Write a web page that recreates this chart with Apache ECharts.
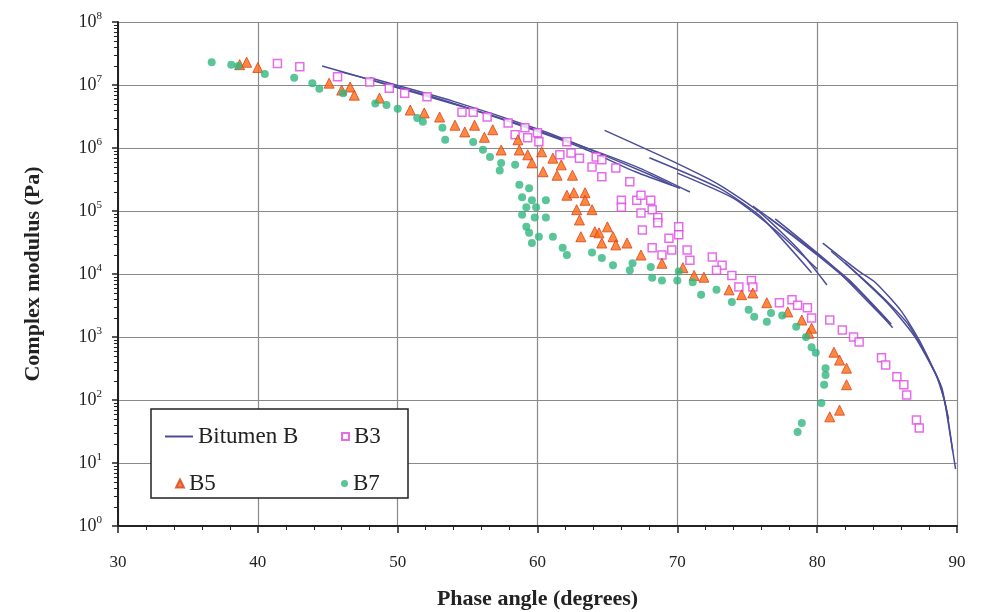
<!DOCTYPE html>
<html>
<head>
<meta charset="utf-8">
<script src="https://cdn.jsdelivr.net/npm/echarts@6/dist/echarts.min.js"></script>
<style>
  html, body { margin: 0; padding: 0; background: #fff; }
  #chart { width: 987px; height: 612px; }
</style>
</head>
<body>
<div id="chart"></div>
<script>
// Bitumen B isotherms, [phase angle (deg), complex modulus (Pa)]
const bitumenA1 = [[44.6, 2.0e7], [50.1, 8.9e6], [57.3, 3.0e6], [63.0, 1.1e6], [67.3, 4.8e5], [70.9, 2.0e5]]
const bitumenA2 = [[46.0, 1.6e7], [52.0, 7.0e6], [58.0, 2.6e6], [63.2, 1.0e6], [67.0, 4.2e5], [70.2, 2.3e5]]
const bitumenA3 = [[48.0, 1.3e7], [54.0, 5.5e6], [60.0, 2.0e6], [64.0, 9.0e5], [68.0, 3.8e5], [69.6, 2.6e5]]
const bitumenB1 = [[64.8, 1.9e6], [69.9, 5.8e5], [73.0, 2.6e5], [75.9, 9.5e4], [78.7, 2.4e4], [80.7, 6.7e3]]
const bitumenB2 = [[68.0, 7.0e5], [73.0, 2.3e5], [76.0, 8.0e4], [79.6, 1.05e4]]
const bitumenB3 = [[70.0, 4.0e5], [74.0, 1.6e5], [77.0, 5.0e4], [80.0, 1.2e4]]
const bitumenC1 = [[75.4, 1.2e5], [78.7, 3.5e4], [82.3, 8.0e3], [85.4, 1.4e3]]
const bitumenC2 = [[76.5, 8.0e4], [80.0, 2.0e4], [83.0, 5.5e3], [85.3, 1.6e3]]
const bitumenC3 = [[77.0, 7.5e4], [81.0, 1.4e4], [84.0, 3.0e3], [85.0, 1.8e3]]
const bitumenD1 = [[80.4, 3.1e4], [83.0, 1.1e4], [84.2, 7.2e3], [86.0, 2.6e3], [87.3, 890], [88.9, 160], [89.3, 55], [89.9, 8]]
const bitumenD2 = [[81.0, 2.3e4], [84.0, 6.0e3], [86.5, 1.6e3], [88.5, 250], [89.2, 80], [89.7, 15]]
const bitumenD3 = [[82.0, 1.5e4], [85.0, 3.5e3], [87.0, 1.0e3], [88.7, 200], [89.4, 50]]

const b3 = [
  [41.4, 2.2e7], [43.0, 1.95e7], [45.7, 1.35e7], [48.0, 1.12e7], [49.4, 8.9e6], [50.5, 7.4e6],
  [52.1, 6.5e6], [54.6, 3.7e6], [55.4, 3.7e6], [56.4, 3.1e6], [57.9, 2.5e6], [59.1, 2.1e6],
  [58.4, 1.62e6], [59.3, 1.45e6], [60.0, 1.74e6], [60.1, 1.26e6], [62.1, 1.26e6], [61.6, 7.8e5],
  [62.4, 8.3e5], [63.0, 6.9e5], [63.9, 5.0e5], [64.2, 7.2e5], [64.6, 6.5e5], [65.6, 4.8e5],
  [64.6, 3.5e5], [66.6, 2.9e5], [66.0, 1.48e5], [66.0, 1.15e5], [67.1, 1.48e5], [67.4, 1.78e5],
  [68.1, 1.48e5], [67.4, 9.3e4], [68.2, 1.05e5], [68.6, 7.9e4], [68.6, 6.5e4], [67.5, 5.0e4],
  [70.1, 5.6e4], [70.1, 4.2e4], [69.4, 3.7e4], [68.2, 2.6e4], [68.9, 2.0e4], [69.6, 2.4e4],
  [70.7, 2.4e4], [70.9, 1.66e4], [72.5, 1.86e4], [73.2, 1.38e4], [72.8, 1.15e4], [73.9, 9.5e3],
  [74.4, 6.2e3], [75.3, 7.9e3], [75.4, 6.2e3], [77.3, 3.5e3], [78.2, 3.9e3], [78.6, 3.2e3],
  [79.3, 2.9e3], [79.6, 2.0e3], [80.9, 1.86e3], [81.8, 1.29e3], [82.6, 1.0e3], [83.0, 830],
  [84.6, 470], [84.9, 360], [85.7, 234], [86.2, 174], [86.4, 120], [87.1, 48], [87.3, 36]
]
const b5 = [
  [38.7, 2.1e7], [39.2, 2.3e7], [40.0, 1.9e7], [45.1, 1.07e7], [46.0, 8.3e6], [46.6, 9.3e6],
  [46.9, 6.9e6], [48.7, 6.2e6], [50.9, 4.0e6], [51.9, 3.6e6], [53.0, 3.1e6], [54.1, 2.3e6],
  [54.8, 1.8e6], [55.5, 2.3e6], [56.2, 1.48e6], [56.8, 1.95e6], [57.4, 9.3e5], [58.6, 1.35e6],
  [58.7, 9.3e5], [59.3, 7.8e5], [59.6, 5.8e5], [60.4, 4.2e5], [60.3, 8.7e5], [61.1, 6.9e5],
  [61.4, 3.7e5], [61.7, 5.4e5], [62.5, 3.7e5], [62.1, 1.78e5], [62.6, 1.95e5], [63.4, 1.95e5],
  [63.4, 1.48e5], [62.8, 1.05e5], [63.0, 7.2e4], [63.9, 1.05e5], [63.1, 3.9e4], [64.1, 4.7e4],
  [64.4, 4.5e4], [65.0, 5.6e4], [65.4, 3.9e4], [64.6, 3.1e4], [65.6, 2.9e4], [66.4, 3.1e4],
  [67.4, 2.0e4], [68.9, 1.48e4], [70.4, 1.26e4], [71.2, 9.5e3], [71.9, 8.9e3], [73.7, 5.6e3],
  [74.6, 4.7e3], [75.4, 5.0e3], [76.4, 3.5e3], [77.9, 2.5e3], [78.9, 1.86e3], [79.6, 1.38e3],
  [79.4, 1.15e3], [81.2, 575], [81.6, 430], [82.1, 320], [82.1, 175], [81.6, 69], [80.9, 54]
]
const b7 = [
  [36.7, 2.3e7], [38.1, 2.1e7], [38.6, 2.0e7], [40.5, 1.5e7], [42.6, 1.3e7], [43.9, 1.07e7],
  [44.4, 8.7e6], [46.1, 7.4e6], [48.4, 5.1e6], [49.2, 4.8e6], [50.0, 4.2e6], [51.4, 3.0e6],
  [51.8, 2.6e6], [53.2, 2.1e6], [53.4, 1.35e6], [55.4, 1.25e6], [56.1, 9.4e5], [56.6, 7.2e5],
  [57.4, 5.8e5], [57.3, 4.4e5], [58.4, 5.4e5], [58.7, 2.6e5], [59.4, 2.3e5], [58.9, 1.66e5],
  [59.6, 1.48e5], [59.2, 1.15e5], [59.9, 1.15e5], [58.9, 8.7e4], [59.8, 7.9e4], [60.6, 1.48e5],
  [60.6, 7.9e4], [59.2, 5.6e4], [59.4, 4.5e4], [60.1, 3.9e4], [59.6, 3.1e4], [61.1, 3.9e4],
  [61.8, 2.6e4], [62.1, 2.0e4], [63.9, 2.2e4], [64.6, 1.8e4], [65.4, 1.38e4], [66.6, 1.15e4],
  [66.8, 1.48e4], [68.1, 1.29e4], [68.2, 8.7e3], [68.9, 7.9e3], [70.0, 7.9e3], [70.1, 1.1e4],
  [71.1, 7.4e3], [71.7, 4.7e3], [72.8, 5.6e3], [73.9, 3.6e3], [75.1, 2.7e3], [75.5, 2.1e3],
  [76.4, 1.74e3], [76.7, 2.4e3], [77.5, 2.2e3], [78.5, 1.45e3], [79.2, 1.0e3], [79.6, 690],
  [79.9, 560], [80.6, 320], [80.6, 250], [80.5, 175], [80.3, 90], [78.9, 43], [78.6, 31]
]

const xTicks = [30, 40, 50, 60, 70, 80, 90]

const serif = 'Liberation Serif'
const bitumenLines = [
  bitumenA1, bitumenA2, bitumenA3, bitumenB1, bitumenB2, bitumenB3,
  bitumenC1, bitumenC2, bitumenC3, bitumenD1, bitumenD2, bitumenD3,
]

let series = bitumenLines.map(function (d) {
  return {
    name: 'Bitumen B',
    type: 'line',
    data: d,
    symbol: 'none',
    smooth: 0.2,
    lineStyle: { color: '#4b4c98', width: 1.5 },
    itemStyle: { color: '#4b4c98' },
    z: 3,
  }
})
series.push({
  name: 'B3',
  type: 'scatter',
  data: b3,
  symbol: 'rect',
  symbolSize: 8,
  itemStyle: { color: '#fff', borderColor: '#e046e6', borderWidth: 1.5 },
  z: 4,
})
series.push({
  name: 'B5',
  type: 'scatter',
  data: b5,
  symbol: 'triangle',
  symbolSize: 10,
  itemStyle: { color: '#ff6a10', borderColor: '#d8421a', borderWidth: 1 },
  z: 5,
})
series.push({
  name: 'B7',
  type: 'scatter',
  data: b7,
  symbol: 'circle',
  symbolSize: 8,
  itemStyle: { color: '#2fb67f' },
  z: 6,
})

function legendAt(item, left, top, w, h) {
  return {
    data: [item],
    left: left,
    top: top,
    z: 20,
    itemWidth: w,
    itemHeight: h,
    itemGap: 9,
    textStyle: { fontFamily: serif, fontSize: 23, color: '#222' },
  }
}

let option = {
  animation: false,
  backgroundColor: '#fff',
  grid: { left: 118, right: 30, top: 22, bottom: 86, outerBoundsMode: 'none' },
  legend: [
    legendAt({ name: 'Bitumen B', icon: 'rect', itemStyle: { color: '#4b4c98' } }, 160, 420, 28, 2),
    legendAt({ name: 'B3' }, 336, 420, 7, 7),
    legendAt({ name: 'B5' }, 170, 467, 8, 8),
    legendAt({ name: 'B7' }, 336, 467, 7, 7),
  ],
  graphic: [
    {
      type: 'rect',
      shape: { x: 151, y: 409, width: 257, height: 89 },
      style: { fill: '#fff', stroke: '#222', lineWidth: 1.5 },
      z: 2,
    },
  ],
  xAxis: {
    type: 'value',
    min: 30,
    max: 90,
    interval: 10,
    name: 'Phase angle (degrees)',
    nameLocation: 'middle',
    nameGap: 62,
    nameTextStyle: { fontFamily: serif, fontSize: 22, fontWeight: 'bold', color: '#222' },
    axisLine: { show: true, onZero: false, lineStyle: { color: '#222', width: 2 } },
    axisTick: { show: true, length: 7, lineStyle: { color: '#222', width: 1.5 } },
    minorTick: { show: true, splitNumber: 5, length: 4, lineStyle: { color: '#222' } },
    axisLabel: {
      fontFamily: serif,
      fontSize: 17,
      color: '#222',
      margin: 28,
      formatter: function (v) {
        return xTicks.indexOf(v) >= 0 ? String(v) : ''
      },
    },
    splitLine: { show: true, lineStyle: { color: '#8a8a8a', width: 1.2 } },
  },
  yAxis: {
    type: 'log',
    logBase: 10,
    min: 1,
    max: 1e8,
    name: 'Complex modulus (Pa)',
    nameLocation: 'middle',
    nameGap: 74,
    nameTextStyle: { fontFamily: serif, fontSize: 22, fontWeight: 'bold', color: '#222' },
    axisLine: { show: true, lineStyle: { color: '#222', width: 2 } },
    axisTick: { show: true, length: 6, lineStyle: { color: '#222', width: 1.5 } },
    minorTick: { show: true, splitNumber: 9, length: 4, lineStyle: { color: '#222' } },
    axisLabel: {
      fontFamily: serif,
      fontSize: 18,
      color: '#222',
      margin: 16,
      formatter: function (v) {
        return '10{s|' + Math.round(Math.log10(v)) + '}'
      },
      rich: {
        s: { fontFamily: serif, fontSize: 11, color: '#222', padding: [0, 0, 12, 0] },
      },
    },
    splitLine: { show: true, lineStyle: { color: '#8a8a8a', width: 1.2 } },
  },
  series: series,
}

let myChart = echarts.init(document.getElementById('chart'))
myChart.setOption(option)
</script>
</body>
</html>
